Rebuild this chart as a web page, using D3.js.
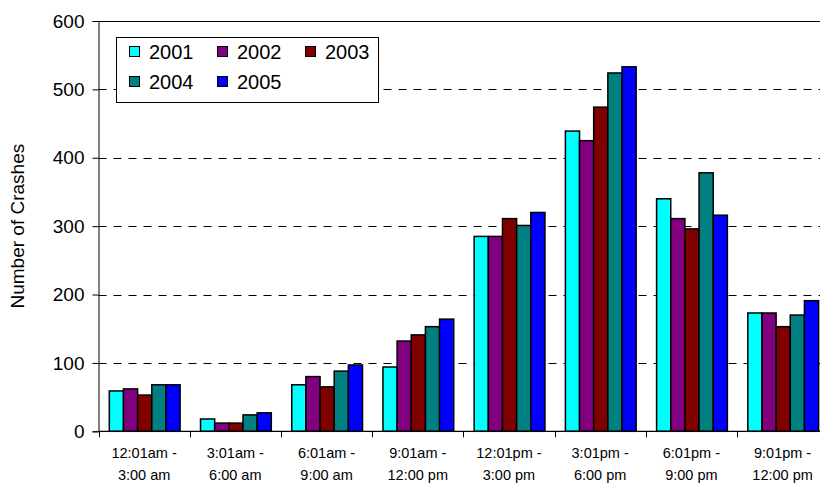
<!DOCTYPE html>
<html lang="en">
<head>
    <meta charset="UTF-8">
    <title>Crashes by Time of Day</title>
    <script src="https://d3js.org/d3.v7.min.js"></script>
    <style>
        body { margin: 0; background: #fff; }
        svg { font-family: "Liberation Sans", Arial, sans-serif; }
    </style>
</head>
<body>
<svg id="chart"></svg>
<script>
    // time of day bins (two label lines each)
    const timeSlots = ["12:01am - 3:00 am", "3:01am - 6:00 am", "6:01am - 9:00 am", "9:01am - 12:00 pm",
        "12:01pm - 3:00 pm", "3:01pm - 6:00 pm", "6:01pm - 9:00 pm", "9:01pm - 12:00 pm"];
    const slotLine1 = ["12:01am -", "3:01am -", "6:01am -", "9:01am -", "12:01pm -", "3:01pm -", "6:01pm -", "9:01pm -"];
    const slotLine2 = ["3:00 am", "6:00 am", "9:00 am", "12:00 pm", "3:00 pm", "6:00 pm", "9:00 pm", "12:00 pm"];

    const years = ["2001", "2002", "2003", "2004", "2005"];
    const yearColors = ["#00ffff", "#800080", "#800000", "#008080", "#0000ff"];

    // crashes per slot, one array per year
    const crashes2001 = [59, 18, 68, 94, 285, 439, 340, 173];
    const crashes2002 = [62, 12, 80, 132, 285, 425, 311, 173];
    const crashes2003 = [53, 12, 65, 141, 311, 474, 296, 153];
    const crashes2004 = [68, 24, 88, 153, 301, 524, 378, 170];
    const crashes2005 = [68, 27, 97, 164, 320, 533, 316, 191];
    const seriesValues = [crashes2001, crashes2002, crashes2003, crashes2004, crashes2005];

    const yTicks = [0, 100, 200, 300, 400, 500, 600];

    const width = 820, height = 487;
    const margin = {top: 21, left: 98.5, bottom: 431.3, right: 828.2};

    const svg = d3.select("#chart")
        .attr("width", width)
        .attr("height", height);

    const x0 = d3.scaleBand()
        .domain(timeSlots)
        .range([margin.left, margin.right]);

    const pad = x0.bandwidth() * 0.112;
    const x1 = d3.scaleBand()
        .domain(years)
        .range([pad + 0.6, x0.bandwidth() - pad + 0.6]);

    const y = d3.scaleLinear()
        .domain([0, 600])
        .range([margin.bottom, margin.top]);

    const color = d3.scaleOrdinal().domain(years).range(yearColors);

    // dashed gridlines
    svg.append("g")
        .selectAll("line")
        .data(yTicks.filter(t => t > 0 && t < 600))
        .join("line")
        .attr("x1", margin.left)
        .attr("x2", width)
        .attr("y1", d => Math.round(y(d)) + 0.5)
        .attr("y2", d => Math.round(y(d)) + 0.5)
        .attr("stroke", "#000")
        .attr("stroke-dasharray", "8,7");

    // top border at 600
    svg.append("line")
        .attr("x1", margin.left)
        .attr("x2", width)
        .attr("y1", Math.round(y(600)) + 0.5)
        .attr("y2", Math.round(y(600)) + 0.5)
        .attr("stroke", "#000");

    // bars
    const rows = timeSlots.map((slot, i) => ({
        slot: slot,
        values: years.map((yr, j) => ({year: yr, value: seriesValues[j][i]}))
    }));

    svg.append("g")
        .selectAll("g")
        .data(rows)
        .join("g")
        .attr("transform", d => `translate(${x0(d.slot)},0)`)
        .selectAll("rect")
        .data(d => d.values)
        .join("rect")
        .attr("x", d => x1(d.year))
        .attr("y", d => y(d.value))
        .attr("width", x1.bandwidth())
        .attr("height", d => y(0) - y(d.value))
        .attr("fill", d => color(d.year))
        .attr("stroke", "#000")
        .attr("stroke-width", 1.5);

    // y axis
    const yAxis = d3.axisLeft(y)
        .tickValues(yTicks)
        .tickSize(6)
        .tickPadding(8);
    const gy = svg.append("g")
        .attr("transform", `translate(${margin.left},0)`)
        .call(yAxis);
    gy.select(".domain").attr("stroke", "#000");
    gy.selectAll(".tick line").attr("stroke", "#000");
    gy.selectAll(".tick text")
        .attr("font-size", "19px")
        .attr("font-family", "Liberation Sans, Arial, sans-serif")
        .attr("fill", "#000");

    // x axis: ticks at group boundaries
    svg.append("line")
        .attr("x1", margin.left)
        .attr("x2", width)
        .attr("y1", margin.bottom)
        .attr("y2", margin.bottom)
        .attr("stroke", "#000")
        .attr("stroke-width", 1.2);

    svg.append("g")
        .selectAll("line")
        .data(timeSlots)
        .join("line")
        .attr("x1", d => Math.round(x0(d)) + 0.5)
        .attr("x2", d => Math.round(x0(d)) + 0.5)
        .attr("y1", margin.bottom)
        .attr("y2", margin.bottom + 6)
        .attr("stroke", "#000");

    const xl = svg.append("g")
        .selectAll("text")
        .data(timeSlots)
        .join("text")
        .attr("text-anchor", "middle")
        .attr("font-size", "14.5px")
        .attr("fill", "#000");
    xl.append("tspan")
        .attr("x", d => x0(d) + x0.bandwidth() / 2)
        .attr("y", 458)
        .text((d, i) => slotLine1[i]);
    xl.append("tspan")
        .attr("x", d => x0(d) + x0.bandwidth() / 2)
        .attr("y", 480)
        .text((d, i) => slotLine2[i]);

    // y title
    svg.append("text")
        .attr("transform", `translate(24,${(margin.top + margin.bottom) / 2}) rotate(-90)`)
        .attr("text-anchor", "middle")
        .attr("font-size", "19px")
        .text("Number of Crashes");

    // legend
    const legend = svg.append("g");
    legend.append("rect")
        .attr("x", 116.5)
        .attr("y", 37.5)
        .attr("width", 262)
        .attr("height", 65)
        .attr("fill", "#fff")
        .attr("stroke", "#000");

    const colX = [129, 217, 305];
    const rowY = [52, 82];
    const items = legend.selectAll("g.item")
        .data(years)
        .join("g")
        .attr("class", "item")
        .attr("transform", (d, i) => `translate(${colX[i % 3]},${rowY[Math.floor(i / 3)]})`);
    items.append("rect")
        .attr("x", 0.5)
        .attr("y", -5.5)
        .attr("width", 10)
        .attr("height", 10)
        .attr("fill", d => color(d))
        .attr("stroke", "#000");
    items.append("text")
        .attr("x", 20)
        .attr("y", 7)
        .attr("font-size", "20px")
        .text(d => d);
</script>
</body>
</html>
